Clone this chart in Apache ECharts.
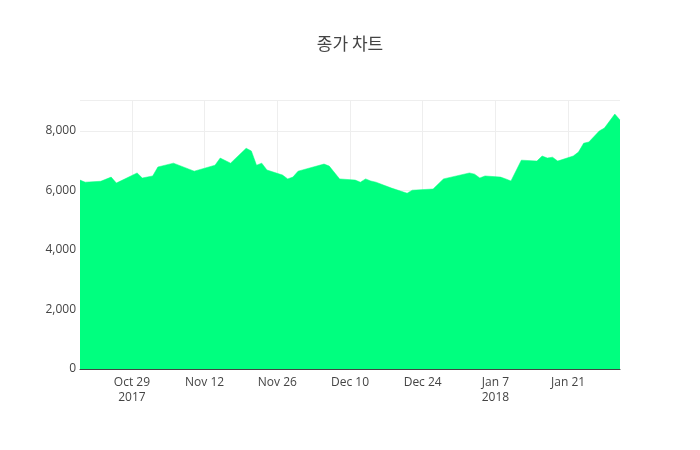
<!DOCTYPE html>
<html><head><meta charset="utf-8">
<script src="https://cdn.jsdelivr.net/npm/echarts@6/dist/echarts.min.js"></script>
<style>html,body{margin:0;padding:0;background:#fff}#c{width:700px;height:450px}</style>
</head><body><div id="c"></div>
<script>
const dates = ["2017-10-19","2017-10-20","2017-10-23","2017-10-25","2017-10-26","2017-10-30","2017-10-31","2017-11-02","2017-11-03","2017-11-06","2017-11-10","2017-11-14","2017-11-15","2017-11-17","2017-11-20","2017-11-21","2017-11-22","2017-11-23","2017-11-24","2017-11-27","2017-11-28","2017-11-29","2017-11-30","2017-12-05","2017-12-06","2017-12-08","2017-12-11","2017-12-12","2017-12-13","2017-12-14","2017-12-15","2017-12-18","2017-12-21","2017-12-22","2017-12-26","2017-12-28","2018-01-02","2018-01-03","2018-01-04","2018-01-05","2018-01-08","2018-01-09","2018-01-10","2018-01-12","2018-01-15","2018-01-16","2018-01-17","2018-01-18","2018-01-19","2018-01-22","2018-01-23","2018-01-24","2018-01-25","2018-01-27","2018-01-28","2018-01-30","2018-01-31"];
const closes = [6350,6280,6310,6450,6250,6590,6420,6490,6790,6920,6650,6850,7090,6920,7420,7330,6850,6920,6690,6520,6390,6450,6650,6890,6820,6390,6350,6280,6390,6320,6280,6080,5910,6010,6050,6390,6590,6550,6420,6490,6450,6390,6320,7020,6990,7160,7090,7120,6990,7160,7290,7590,7630,8000,8100,8570,8370];
const tickDates = ["2017-10-29","2017-11-12","2017-11-26","2017-12-10","2017-12-24","2018-01-07","2018-01-21"];
const tickLabels = ["Oct 29\n2017","Nov 12","Nov 26","Dec 10","Dec 24","Jan 7\n2018","Jan 21"];
const yTicks = [0,2000,4000,6000,8000];

const ts = s => new Date(s + "T00:00:00Z").getTime();
const tickTs = tickDates.map(ts);
const labelMap = {}; tickTs.forEach((t,i)=>labelMap[t]=tickLabels[i]);
const chart = echarts.init(document.getElementById('c'));
chart.setOption({
  animation:false,
  title:{text:'종가 차트',left:'center',top:30,textStyle:{fontFamily:'Noto Sans CJK KR',fontSize:17,fontWeight:'normal',color:'#444'}},
  grid:{left:80,right:80,top:100,bottom:81},
  xAxis:{type:'value',min:ts(dates[0]),max:ts(dates[dates.length-1]),
    axisLine:{show:true,onZero:false,lineStyle:{color:'#444',width:1}},
    axisTick:{show:false,customValues:tickTs},
    splitLine:{show:true,lineStyle:{color:'#eee'}},
    axisLabel:{customValues:tickTs,formatter:v=>labelMap[v]||'',color:'#444',fontSize:12,fontFamily:'Open Sans',lineHeight:15,margin:6}},
  yAxis:{type:'value',min:0,max:9042,interval:2000,
    axisLine:{show:false},axisTick:{show:false},
    splitLine:{lineStyle:{color:'#eee'}},
    axisLabel:{customValues:yTicks,color:'#444',fontSize:12,fontFamily:'Open Sans',margin:4}},
  series:[{type:'line',data:dates.map((d,i)=>[ts(d),closes[i]]),symbol:'none',
    lineStyle:{width:0.5,color:'#00ff7f'},areaStyle:{color:'#00ff7f',opacity:1}}]
});
</script></body></html>
